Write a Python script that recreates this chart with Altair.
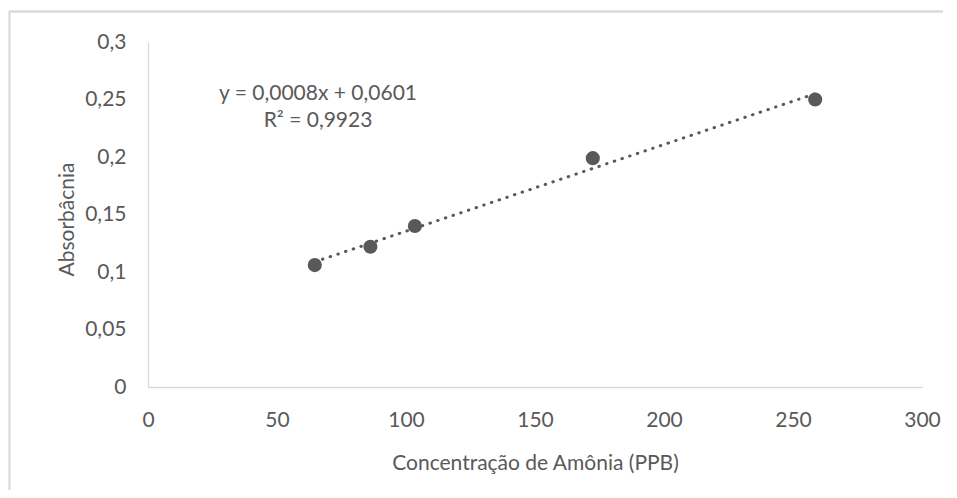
import altair as alt
import pandas as pd

# Data
conc_ppb = [64.65, 86.2, 103.44, 172.4, 258.6]
absorb = [0.106, 0.122, 0.140, 0.199, 0.250]
eq_lines = ["y = 0,0008x + 0,0601", "R² = 0,9923"]
eq_x = [65.9, 65.9]
eq_y = [0.2496, 0.2261]
x_ticks = [0, 50, 100, 150, 200, 250, 300]
y_ticks = [0, 0.05, 0.1, 0.15, 0.2, 0.25, 0.3]

df = pd.DataFrame({"x": conc_ppb, "y": absorb})
eq_df = pd.DataFrame({"t": eq_lines, "x": eq_x, "y": eq_y})

FONT = "Lato"
TXT = "#595959"
FS = 21

xs = alt.Scale(domain=[0, 300], nice=False, zero=True)
ys = alt.Scale(domain=[0, 0.3], nice=False, zero=True)

xax = alt.Axis(values=x_ticks, title="Concentração de Amônia (PPB)", ticks=False, tickSize=0,
               grid=False, domainColor="#d9d9d9", domainWidth=1.3,
               labelPadding=39, labelBaseline="alphabetic", labelFont=FONT, labelFontSize=FS,
               labelColor=TXT, titleFont=FONT, titleFontSize=FS, titleColor=TXT,
               titleFontWeight="normal", titleBaseline="alphabetic", titleY=82,
               labelFlush=False, labelOverlap=False)
yax = alt.Axis(values=y_ticks, title="Absorbâcnia", ticks=False, tickSize=0, grid=False,
               domainColor="#d9d9d9", domainWidth=1.3, labelPadding=22,
               labelExpr="replace(toString(datum.value), '.', ',')",
               labelFont=FONT, labelFontSize=FS, labelColor=TXT, titleFont=FONT,
               titleFontSize=FS, titleColor=TXT, titleFontWeight="normal",
               titleAngle=-90, titleBaseline="alphabetic", titleAlign="center",
               titleX=-75, titleY=177, labelFlush=False, labelOverlap=False)

base = alt.Chart(df)

trend = base.transform_regression("x", "y", method="linear").mark_line(
    color="#595959", strokeWidth=3, strokeCap="round", strokeDash=[0.5, 7.6]
).encode(x=alt.X("x:Q", scale=xs, axis=xax), y=alt.Y("y:Q", scale=ys, axis=yax))

pts = base.mark_point(filled=True, size=200, color="#595959", opacity=1).encode(
    x=alt.X("x:Q", scale=xs), y=alt.Y("y:Q", scale=ys)
)

eq = alt.Chart(eq_df).mark_text(font=FONT, fontSize=FS, color=TXT, align="center",
                                baseline="alphabetic").encode(
    x=alt.X("x:Q", scale=xs), y=alt.Y("y:Q", scale=ys), text="t:N"
)

border_top = alt.Chart(df).mark_rule(color="#d9d9d9", strokeWidth=1.3, strokeCap="butt").encode(
    x=alt.value(-138.5), x2=alt.value(795), y=alt.value(-30.5)
)
border_left = alt.Chart(df).mark_rule(color="#d9d9d9", strokeWidth=1.3, strokeCap="butt").encode(
    x=alt.value(-138.5), y=alt.value(-30.5), y2=alt.value(448)
)

chart = alt.layer(border_top, border_left, trend, pts, eq).properties(
    width=774, height=345,
    autosize=alt.AutoSizeParams(type="none"),
    padding={"left": 140, "top": 34, "right": 27, "bottom": 103},
).configure_view(stroke=None)

chart.save("out.html", embed_options={"renderer": "svg", "actions": False})
